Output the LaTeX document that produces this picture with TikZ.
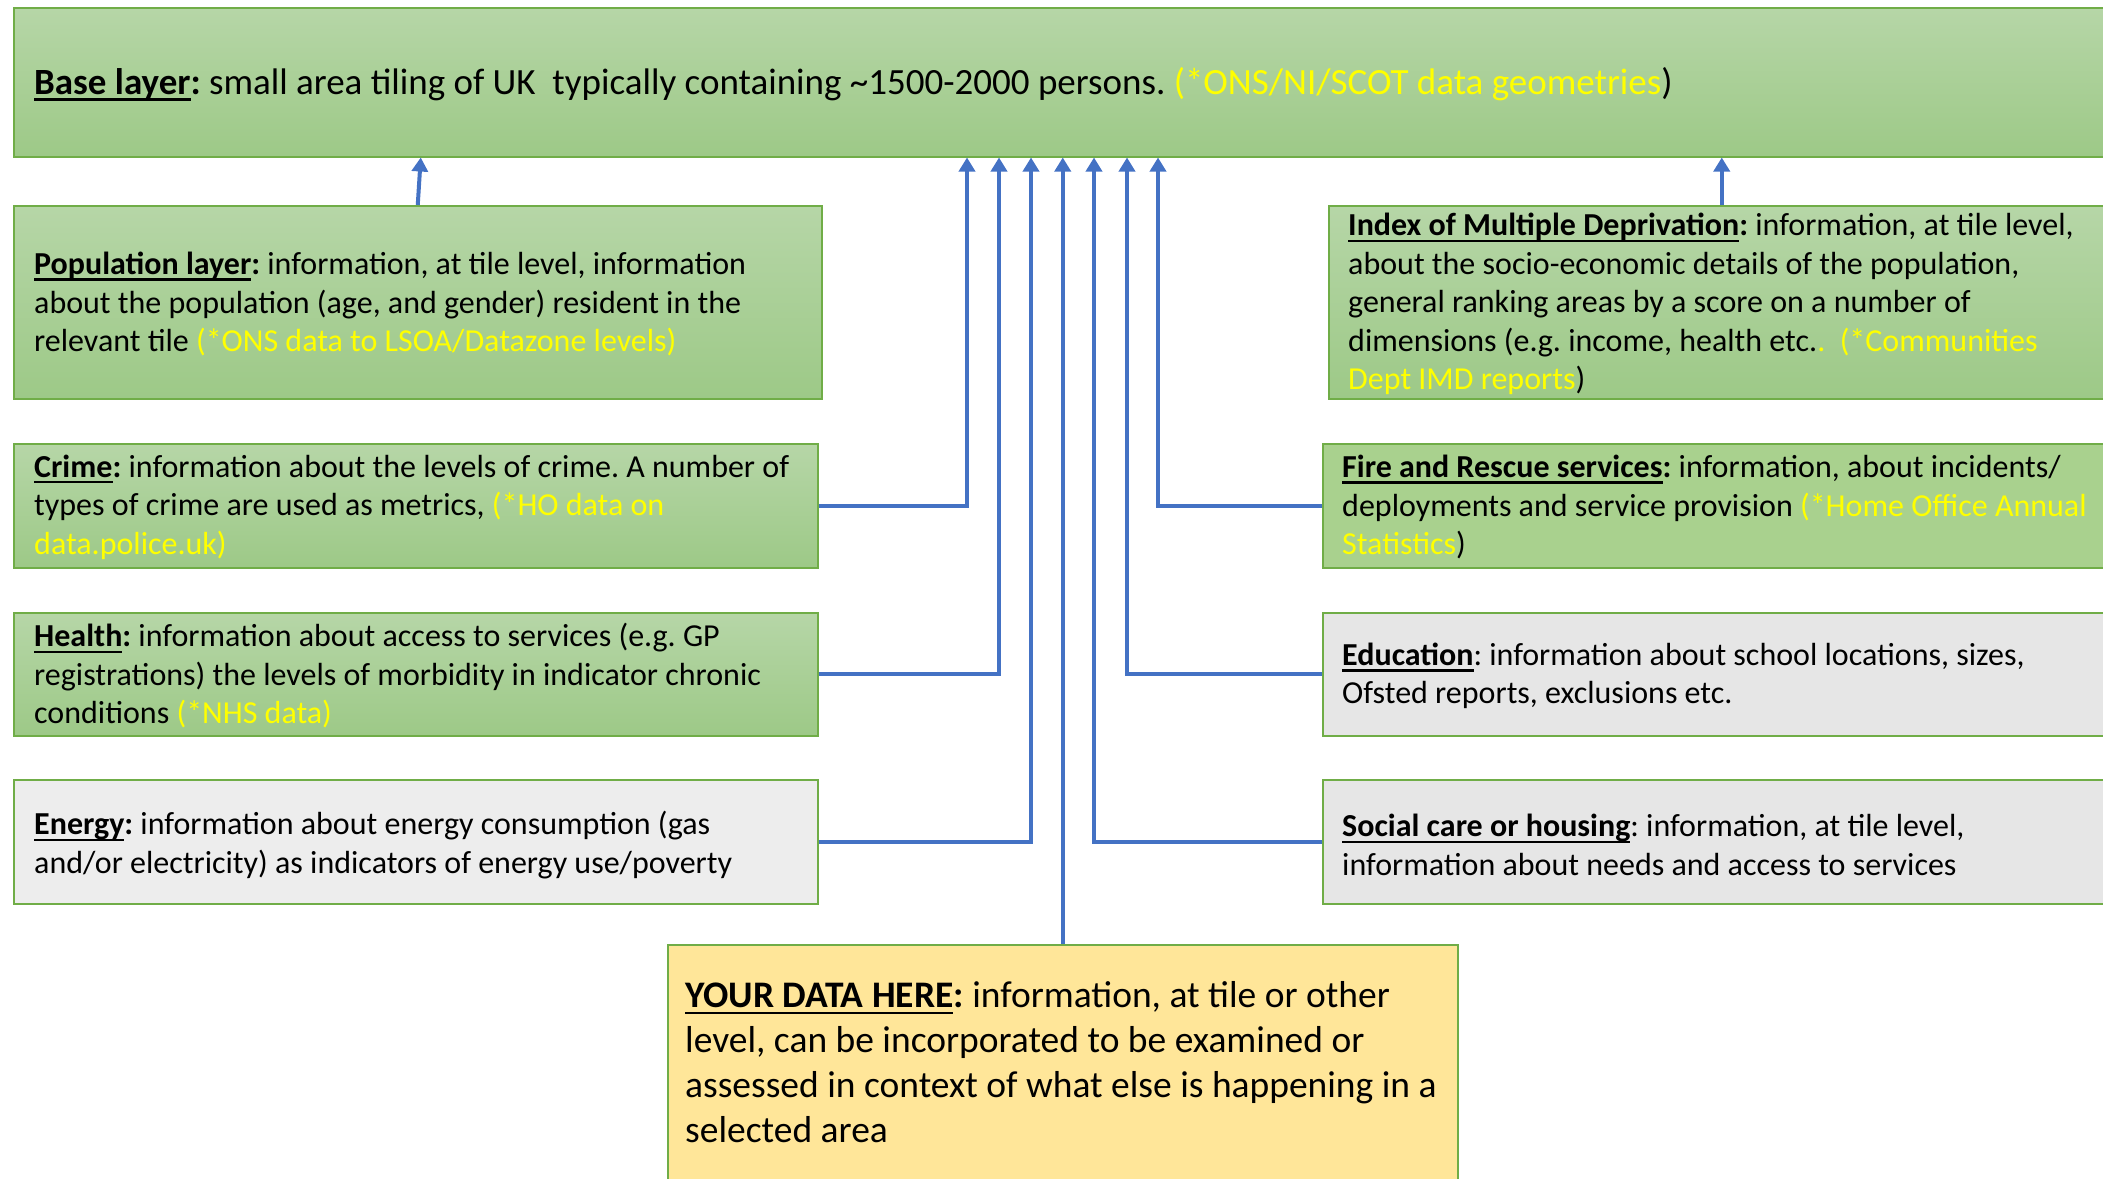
\documentclass[tikz,border=0pt]{standalone}
\usepackage{fontspec}
\setmainfont{Carlito}
\usetikzlibrary{arrows.meta}
\definecolor{gtop}{RGB}{182,214,167}
\definecolor{gbot}{RGB}{157,201,135}
\definecolor{gborder}{RGB}{112,173,71}
\definecolor{flatg}{RGB}{169,209,142}
\definecolor{greyA}{RGB}{237,237,237}
\definecolor{greyB}{RGB}{230,230,230}
\definecolor{ydfill}{RGB}{255,230,153}
\definecolor{arrowc}{RGB}{68,114,196}
\definecolor{yel}{RGB}{255,255,0}
\newsavebox\hdbox
\newcommand{\hd}[1]{\sbox\hdbox{\textbf{#1}}\rlap{\rule[-0.19em]{\wd\hdbox}{0.07em}}\usebox\hdbox}
\newcommand{\src}[1]{\textcolor{yel}{#1}}
\frenchspacing
\begin{document}
\begin{tikzpicture}[x=1pt,y=-1pt,
  box/.style={draw=gborder, line width=1.5pt, inner sep=0pt, anchor=north west},
  ggrad/.style={top color=gtop, bottom color=gbot},
  txt/.style={anchor=west, align=left, inner sep=0pt, font=\fontsize{32}{38.5}\selectfont},
  conn/.style={draw=arrowc, line width=4pt, -{Triangle[width=16pt,length=14pt]}}]
\useasboundingbox (0,0) rectangle (2103,1178);
\clip (0,0) rectangle (2103,1178);
% boxes
\node[box, ggrad, minimum width=2120pt, minimum height=149pt] (base) at (13,7) {};
\node[box, ggrad, minimum width=808pt, minimum height=193pt] (pop) at (13,205) {};
\node[box, ggrad, minimum width=786pt, minimum height=193pt] (imd) at (1328,205) {};
\node[box, ggrad, minimum width=804pt, minimum height=124pt] (crime) at (13,443) {};
\node[box, ggrad, minimum width=804pt, minimum height=123pt] (health) at (13,612) {};
\node[box, fill=greyA, minimum width=804pt, minimum height=124pt] (energy) at (13,779) {};
\node[box, fill=flatg, minimum width=820pt, minimum height=124pt] (fire) at (1322,443) {};
\node[box, fill=greyB, minimum width=820pt, minimum height=123pt] (edu) at (1322,612) {};
\node[box, fill=greyB, minimum width=820pt, minimum height=124pt] (soc) at (1322,779) {};
\node[box, fill=ydfill, minimum width=790pt, minimum height=260pt] (yd) at (667,944) {};
% texts
\node[txt, font=\fontsize{37}{44}\selectfont] (baseT) at (34,84)
  {\hd{Base layer}\textbf{:} small area tiling of UK\ \ typically containing \textasciitilde1500-2000 persons. \src{(*ONS/NI/SCOT data geometries})};
\node[txt] (popT) at (34,304)
  {\hd{Population layer}\textbf{:} information, at tile level, information\\
   about the population (age, and gender) resident in the\\
   relevant tile \src{(*ONS data to LSOA/Datazone levels)}};
\node[txt] (imdT) at (1348,304)
  {\hd{Index of Multiple Deprivation}\textbf{:} information, at tile level,\\
   about the socio-economic details of the population,\\
   general ranking areas by a score on a number of\\
   dimensions (e.g. income, health etc.\src{.}\ \ \src{(*Communities}\\
   \src{Dept IMD reports})};
\node[txt] (crimeT) at (34,507)
  {\hd{Crime}\textbf{:} information about the levels of crime. A number of\\
   types of crime are used as metrics, \src{(*HO data on}\\
   \src{data.police.uk)}};
\node[txt] (healthT) at (34,676)
  {\hd{Health}\textbf{:} information about access to services (e.g. GP\\
   registrations) the levels of morbidity in indicator chronic\\
   conditions \src{(*NHS data)}};
\node[txt] (energyT) at (34,845)
  {\hd{Energy}\textbf{:} information about energy consumption (gas\\
   and/or electricity) as indicators of energy use/poverty};
\node[txt] (fireT) at (1342,507)
  {\hd{Fire and Rescue services}\textbf{:} information, about incidents/\\
   deployments and service provision \src{(*Home Office Annual}\\
   \src{Statistics})};
\node[txt] (eduT) at (1342,676)
  {\hd{Education}: information about school locations, sizes,\\
   Ofsted reports, exclusions etc.};
\node[txt] (socT) at (1342,845)
  {\hd{Social care or housing}: information, at tile level,\\
   information about needs and access to services};
\node[txt, anchor=north west, font=\fontsize{37.5}{45}\selectfont] (ydT) at (685,981)
  {\hd{YOUR DATA HERE}\textbf{:} information, at tile or other\\
   level, can be incorporated to be examined or\\
   assessed in context of what else is happening in a\\
   selected area};
% connector columns
\coordinate (xa) at (967,0);
\coordinate (xb) at (999,0);
\coordinate (xc) at (1031,0);
\coordinate (xe) at (1094,0);
\coordinate (xf) at (1127,0);
\coordinate (xg) at (1158,0);
% connectors
\draw[conn] (pop.north) -- ([xshift=3pt]pop.north |- base.south);
\draw[conn] (imd.north) -- (imd.north |- base.south);
\draw[conn] (crime.east) -| (xa |- base.south);
\draw[conn] (health.east) -| (xb |- base.south);
\draw[conn] (energy.east) -| (xc |- base.south);
\draw[conn] (yd.north) -- (yd.north |- base.south);
\draw[conn] (soc.west) -| (xe |- base.south);
\draw[conn] (edu.west) -| (xf |- base.south);
\draw[conn] (fire.west) -| (xg |- base.south);
\end{tikzpicture}
\end{document}
